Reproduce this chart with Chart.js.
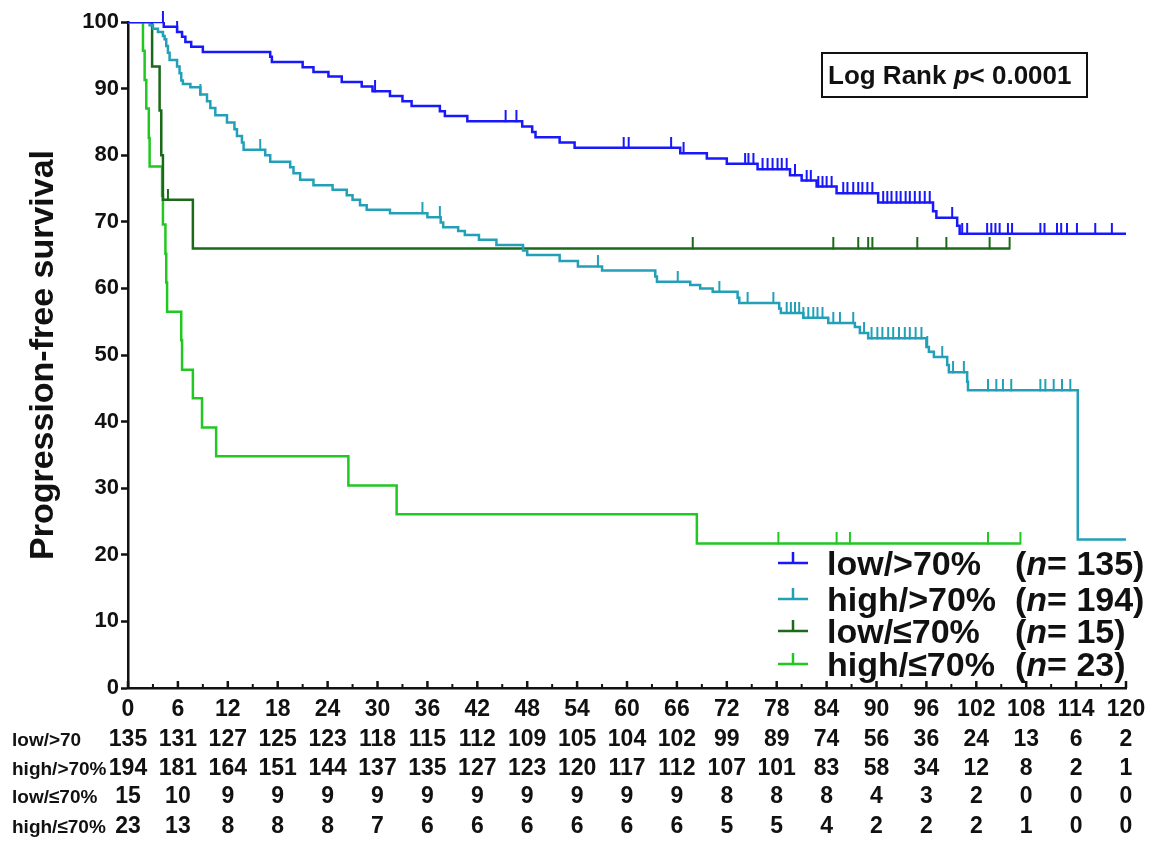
<!DOCTYPE html>
<html>
<head>
<meta charset="utf-8">
<script src="https://cdn.jsdelivr.net/npm/chart.js@4.4.0/dist/chart.umd.min.js"></script>
<style>
html, body { margin: 0; padding: 0; background: #fff; }
</style>
</head>
<body>
<canvas id="km" width="1155" height="841"></canvas>
<script>
// groups
var groupNames = ['low/>70%', 'high/>70%', 'low/\u226470%', 'high/\u226470%'];
var groupN = [135, 194, 15, 23];
var lineColors = ['#1818fa', '#22a0b8', '#1a6a1a', '#22c822'];

// low/>70% : event times (months), survival (%) after each event, censor times
var lowAboveTimes = [4.3, 5.9, 6.5, 6.9, 7.6, 9.0, 17.1, 17.3, 21.0, 22.3, 24.1, 25.7, 28.1, 29.4, 31.5, 33.0, 34.1, 37.5, 38.1, 40.8, 47.4, 48.6, 49.0, 51.9, 53.7, 66.4, 69.6, 72.0, 75.7, 79.6, 81.0, 82.8, 85.2, 90.2, 96.8, 97.2, 99.7, 100.0];
var lowAboveSurv  = [99.3, 98.5, 97.8, 97.0, 96.3, 95.5, 94.8, 94.0, 93.2, 92.5, 91.8, 91.0, 90.3, 89.6, 88.9, 88.1, 87.4, 86.6, 85.9, 85.1, 84.3, 83.5, 82.7, 81.9, 81.1, 80.3, 79.5, 78.7, 77.9, 77.0, 76.2, 75.3, 74.3, 72.9, 71.6, 70.6, 69.4, 68.2];
var lowAboveCensor = [4.2, 5.9, 29.7, 45.4, 46.7, 59.6, 60.2, 65.3, 66.8, 74.2, 74.6, 75.2, 76.3, 76.9, 77.5, 78.1, 78.6, 79.2, 80.2, 81.6, 82.1, 83.0, 83.5, 84.0, 84.6, 86.0, 86.5, 87.2, 87.8, 88.3, 88.9, 89.5, 90.8, 91.3, 91.8, 92.4, 92.9, 93.5, 94.0, 94.6, 95.2, 95.8, 96.4, 99.1, 100.3, 100.9, 103.3, 103.8, 104.3, 104.8, 105.8, 106.3, 109.7, 110.2, 111.7, 112.2, 112.9, 114.1, 116.3, 118.3];
var lowAboveEnd = 120;

// high/>70%
var highAboveTimes = [2.6, 3.0, 3.6, 4.2, 4.4, 4.6, 4.8, 5.0, 5.9, 6.2, 6.4, 6.6, 7.5, 8.7, 9.5, 9.9, 10.5, 11.9, 12.8, 13.1, 13.7, 13.9, 16.5, 17.1, 19.5, 19.9, 20.7, 22.3, 24.6, 26.3, 27.0, 27.9, 28.7, 31.5, 36.0, 37.6, 37.9, 39.7, 40.5, 42.2, 44.3, 47.5, 48.0, 51.9, 54.1, 57.0, 63.4, 63.6, 67.6, 68.8, 70.3, 73.3, 73.5, 78.3, 78.5, 81.2, 84.2, 87.4, 88.0, 89.0, 96.0, 96.3, 96.9, 98.5, 98.7, 100.9, 101.0, 114.2];
var highAboveSurv  = [99.5, 99.0, 98.5, 97.9, 97.4, 96.4, 95.4, 94.3, 93.3, 92.3, 91.2, 90.7, 90.2, 89.1, 88.1, 87.1, 86.0, 84.9, 83.9, 82.9, 81.9, 80.8, 80.0, 79.0, 78.2, 77.3, 76.3, 75.5, 74.8, 74.0, 73.3, 72.5, 71.8, 71.3, 70.7, 69.9, 69.2, 68.6, 68.0, 67.3, 66.5, 65.7, 65.0, 64.1, 63.3, 62.7, 61.8, 61.0, 60.5, 60.0, 59.5, 58.6, 57.8, 57.0, 56.3, 55.6, 54.8, 54.2, 53.3, 52.5, 51.2, 50.5, 49.7, 48.5, 47.4, 46.0, 44.7, 22.3];
var highAboveCensor = [8.7, 15.9, 35.4, 37.5, 56.5, 66.1, 71.1, 74.5, 77.6, 79.2, 79.7, 80.2, 80.7, 81.2, 81.8, 82.4, 82.9, 83.5, 84.8, 85.6, 87.2, 88.5, 89.4, 90.1, 90.7, 91.4, 92.0, 92.7, 93.4, 94.0, 94.7, 95.4, 96.1, 97.9, 99.2, 100.5, 103.4, 104.4, 105.2, 106.2, 109.7, 110.3, 111.3, 112.3, 113.3];
var highAboveEnd = 120;

// low/<=70%
var lowBelowTimes = [2.9, 3.8, 4.0, 4.2, 7.8];
var lowBelowSurv  = [93.3, 86.7, 80.0, 73.3, 66.0];
var lowBelowCensor = [4.8, 67.9, 84.8, 87.8, 89.0, 89.5, 94.9, 98.4, 103.6, 106.0];
var lowBelowEnd = 106.0;

// high/<=70%
var highBelowTimes = [1.8, 2.0, 2.2, 2.5, 2.6, 4.1, 4.2, 4.5, 4.6, 4.7, 6.4, 6.5, 7.8, 8.9, 10.6, 26.5, 32.3, 68.4];
var highBelowSurv  = [95.7, 91.3, 87.0, 82.6, 78.3, 73.9, 69.6, 65.2, 60.9, 56.5, 52.2, 47.8, 43.5, 39.1, 34.8, 30.4, 26.1, 21.7];
var highBelowCensor = [78.2, 85.2, 86.8, 103.4, 107.3];
var highBelowEnd = 107.3;

// number at risk
var riskTimes = [0, 6, 12, 18, 24, 30, 36, 42, 48, 54, 60, 66, 72, 78, 84, 90, 96, 102, 108, 114, 120];
var riskLabels = ['low/>70', 'high/>70%', 'low/\u226470%', 'high/\u226470%'];
var riskLowAbove  = [135, 131, 127, 125, 123, 118, 115, 112, 109, 105, 104, 102, 99, 89, 74, 56, 36, 24, 13, 6, 2];
var riskHighAbove = [194, 181, 164, 151, 144, 137, 135, 127, 123, 120, 117, 112, 107, 101, 83, 58, 34, 12, 8, 2, 1];
var riskLowBelow  = [15, 10, 9, 9, 9, 9, 9, 9, 9, 9, 9, 9, 8, 8, 8, 4, 3, 2, 0, 0, 0];
var riskHighBelow = [23, 13, 8, 8, 8, 7, 6, 6, 6, 6, 6, 6, 5, 5, 4, 2, 2, 2, 1, 0, 0];

var FONT = '"Liberation Sans", Arial, sans-serif';
Chart.defaults.font.family = FONT;
Chart.defaults.color = '#111';

function stepPoints(times, surv, end) {
  var pts = [{x: 0, y: 100}];
  for (var i = 0; i < times.length; i++) pts.push({x: times[i], y: surv[i]});
  pts.push({x: end, y: surv[surv.length - 1]});
  return pts;
}

function survAt(times, surv, t) {
  var s = 100;
  for (var i = 0; i < times.length; i++) {
    if (times[i] <= t) s = surv[i];
  }
  return s;
}

function censorPoints(times, surv, cens) {
  return cens.map(function(t) { return {x: t, y: survAt(times, surv, t)}; });
}

// upward censor tick, image centred on the point so only the top half shows
function tickMark(color) {
  var c = document.createElement('canvas');
  c.width = 4; c.height = 22;
  var g = c.getContext('2d');
  g.fillStyle = color;
  g.fillRect(1, 0, 2, 12);
  return c;
}

var groups = [
  [lowAboveTimes, lowAboveSurv, lowAboveCensor, lowAboveEnd],
  [highAboveTimes, highAboveSurv, highAboveCensor, highAboveEnd],
  [lowBelowTimes, lowBelowSurv, lowBelowCensor, lowBelowEnd],
  [highBelowTimes, highBelowSurv, highBelowCensor, highBelowEnd]
];
var riskRows = [riskLowAbove, riskHighAbove, riskLowBelow, riskHighBelow];

var datasets = [];
groups.forEach(function(g, i) {
  datasets.push({
    label: groupNames[i],
    data: stepPoints(g[0], g[1], g[3]),
    borderColor: lineColors[i],
    borderWidth: 2.5,
    stepped: true,
    pointRadius: 0,
    fill: false
  });
});
groups.forEach(function(g, i) {
  datasets.push({
    label: groupNames[i] + ' censored',
    data: censorPoints(g[0], g[1], g[2]),
    showLine: false,
    pointStyle: tickMark(lineColors[i]),
    pointRadius: 3,
    clip: false
  });
});

// text with an italic piece: parts = [[text, italic], ...]
function mixedText(ctx, parts, x, y, size) {
  parts.forEach(function(p) {
    ctx.font = (p[1] ? 'italic ' : '') + 'bold ' + size + 'px ' + FONT;
    ctx.fillText(p[0], x, y);
    x += ctx.measureText(p[0]).width;
  });
}

var kmExtras = {
  id: 'kmExtras',
  afterDraw: function(chart) {
    var ctx = chart.ctx;
    var xs = chart.scales.x;
    var bottom = chart.chartArea.bottom;
    ctx.save();

    // time axis ticks point up into the plot: long every 6, short every 3
    ctx.strokeStyle = '#111';
    for (var m = 0; m <= 120; m += 3) {
      var px = xs.getPixelForValue(m);
      var major = m % 6 === 0;
      ctx.lineWidth = major ? 2.5 : 2;
      ctx.beginPath();
      ctx.moveTo(px, bottom);
      ctx.lineTo(px, bottom - (major ? 7 : 4));
      ctx.stroke();
    }

    // log rank box
    ctx.lineWidth = 2;
    ctx.strokeStyle = '#111';
    ctx.strokeRect(822, 53, 265, 44);
    ctx.fillStyle = '#111';
    ctx.textAlign = 'left';
    ctx.textBaseline = 'alphabetic';
    mixedText(ctx, [['Log Rank ', false], ['p', true], ['< 0.0001', false]], 828, 84, 26);

    // legend
    var rowsY = [563, 599, 631, 664];
    groupNames.forEach(function(name, i) {
      var y = rowsY[i];
      ctx.strokeStyle = lineColors[i];
      ctx.lineWidth = 2.5;
      ctx.beginPath();
      ctx.moveTo(778, y); ctx.lineTo(808, y);
      ctx.moveTo(793, y); ctx.lineTo(793, y - 11);
      ctx.stroke();
      ctx.fillStyle = '#111';
      mixedText(ctx, [[name, false]], 827, y + 12, 34);
      mixedText(ctx, [['(', false], ['n', true], ['= ' + groupN[i] + ')', false]], 1015, y + 12, 34);
    });

    // number at risk table
    var tableY = [740, 769, 797, 827];
    ctx.textBaseline = 'middle';
    riskRows.forEach(function(row, r) {
      ctx.textAlign = 'left';
      ctx.font = 'bold 19px ' + FONT;
      ctx.fillText(riskLabels[r], 12, tableY[r] + 1);
      ctx.textAlign = 'center';
      ctx.font = 'bold 23px ' + FONT;
      row.forEach(function(v, j) {
        ctx.fillText(String(v), xs.getPixelForValue(riskTimes[j]), tableY[r]);
      });
    });
    ctx.restore();
  }
};

new Chart(document.getElementById('km'), {
  type: 'line',
  data: { datasets: datasets },
  options: {
    responsive: false,
    animation: false,
    events: [],
    layout: { padding: { top: 22, right: 29, left: 0, bottom: 0 } },
    plugins: {
      legend: { display: false },
      tooltip: { enabled: false }
    },
    scales: {
      x: {
        type: 'linear',
        min: 0,
        max: 120,
        afterFit: function(s) { s.height = 153; },
        border: { color: '#111', width: 2.5 },
        grid: { drawOnChartArea: false, drawTicks: false },
        ticks: {
          stepSize: 6,
          autoSkip: false,
          maxRotation: 0,
          padding: 8,
          color: '#111',
          font: { size: 23, weight: 'bold' }
        }
      },
      y: {
        min: 0,
        max: 100,
        afterFit: function(s) { s.width = 128; },
        border: { color: '#111', width: 2.5 },
        grid: { drawOnChartArea: false, tickLength: 7, tickWidth: 2.5, tickColor: '#111' },
        ticks: {
          stepSize: 10,
          padding: 2,
          color: '#111',
          font: { size: 22, weight: 'bold' }
        },
        title: {
          display: true,
          text: 'Progression-free survival',
          color: '#111',
          font: { size: 34, weight: 'bold' },
          padding: { top: 23, bottom: 0 }
        }
      }
    }
  },
  plugins: [kmExtras]
});
</script>
</body>
</html>
